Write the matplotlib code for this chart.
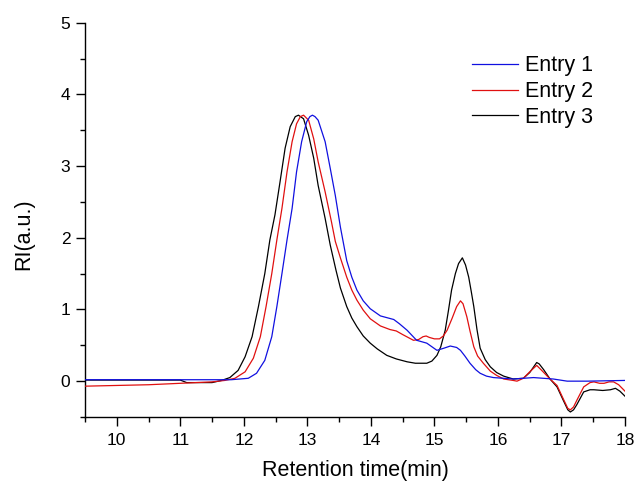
import matplotlib
matplotlib.use("Agg")
import matplotlib.pyplot as plt
from matplotlib.ticker import MultipleLocator

plt.rcParams['font.family'] = ['Liberation Sans', 'DejaVu Sans']

# Entry 1 (blue)
t1 = [9.5, 10.5, 11.5, 11.8, 12.07, 12.20, 12.33, 12.44, 12.52, 12.60, 12.68, 12.76,
      12.83, 12.91, 12.99, 13.04, 13.08, 13.12, 13.17, 13.28, 13.36, 13.44, 13.52,
      13.62, 13.70, 13.78, 13.88, 13.99, 14.15, 14.36, 14.45, 14.57, 14.72, 14.88,
      15.04, 15.15, 15.25, 15.35, 15.41, 15.48, 15.56, 15.65, 15.72, 15.82, 15.93,
      16.24, 16.56, 16.87, 17.09, 17.40, 18.0]
ri1 = [0.02, 0.02, 0.02, 0.02, 0.04, 0.11, 0.29, 0.62, 1.04, 1.50, 1.97, 2.41,
       2.92, 3.34, 3.62, 3.69, 3.71, 3.69, 3.64, 3.34, 2.97, 2.59, 2.15,
       1.68, 1.45, 1.27, 1.12, 1.01, 0.91, 0.86, 0.80, 0.71, 0.57, 0.53,
       0.43, 0.46, 0.49, 0.47, 0.43, 0.35, 0.25, 0.16, 0.11, 0.07, 0.05,
       0.03, 0.05, 0.03, 0.0, 0.0, 0.01]

# Entry 2 (red)
t2 = [9.5, 10.0, 10.5, 11.0, 11.5, 11.7, 11.86, 12.02, 12.15, 12.26, 12.35, 12.44,
      12.52, 12.60, 12.68, 12.76, 12.83, 12.89, 12.94, 13.02, 13.10, 13.17, 13.28,
      13.38, 13.44, 13.52, 13.62, 13.70, 13.78, 13.88, 13.99, 14.15, 14.30, 14.40,
      14.50, 14.67, 14.75, 14.82, 14.87, 14.92, 15.00, 15.08, 15.14, 15.20, 15.28,
      15.35, 15.41, 15.45, 15.51, 15.56, 15.62, 15.68, 15.77, 15.88, 15.98, 16.09,
      16.24, 16.30, 16.40, 16.50, 16.61, 16.70, 16.82, 16.93, 17.03, 17.10, 17.14,
      17.19, 17.24, 17.35, 17.45, 17.51, 17.60, 17.67, 17.75, 17.82, 17.90, 18.0]
ri2 = [-0.07, -0.06, -0.05, -0.03, -0.01, 0.01, 0.04, 0.13, 0.32, 0.62, 1.04, 1.50,
       1.97, 2.41, 2.92, 3.34, 3.59, 3.69, 3.71, 3.64, 3.38, 3.06, 2.64,
       2.22, 1.95, 1.72, 1.45, 1.27, 1.13, 0.99, 0.87, 0.77, 0.72, 0.70,
       0.65, 0.57, 0.58, 0.62, 0.63, 0.61, 0.59, 0.59, 0.63, 0.71, 0.88,
       1.04, 1.12, 1.08, 0.90, 0.70, 0.48, 0.35, 0.25, 0.14, 0.08, 0.03,
       0.01, 0.0, 0.04, 0.13, 0.22, 0.14, 0.03, -0.06, -0.25, -0.38, -0.40,
       -0.36, -0.27, -0.08, -0.02, -0.01, -0.03, -0.03, -0.01, -0.01, -0.05, -0.14]

# Entry 3 (black)
t3 = [9.5, 11.0, 11.1, 11.5, 11.65, 11.78, 11.91, 12.02, 12.13, 12.23, 12.33, 12.41,
      12.49, 12.57, 12.65, 12.73, 12.81, 12.86, 12.94, 13.02, 13.10, 13.17, 13.28,
      13.36, 13.45, 13.52, 13.62, 13.70, 13.78, 13.88, 13.99, 14.10, 14.25, 14.40,
      14.57, 14.70, 14.88, 14.96, 15.04, 15.10, 15.17, 15.22, 15.27, 15.33, 15.38,
      15.44, 15.49, 15.54, 15.58, 15.62, 15.67, 15.72, 15.80, 15.88, 15.98, 16.09,
      16.24, 16.40, 16.50, 16.61, 16.65, 16.72, 16.82, 16.93, 17.03, 17.10, 17.14,
      17.19, 17.24, 17.35, 17.45, 17.51, 17.65, 17.77, 17.85, 17.92, 18.0]
ri3 = [0.015, 0.015, -0.02, -0.02, 0.01, 0.05, 0.15, 0.34, 0.62, 1.04, 1.50, 1.97,
       2.32, 2.78, 3.25, 3.55, 3.69, 3.71, 3.66, 3.43, 3.11, 2.73, 2.27,
       1.90, 1.55, 1.30, 1.04, 0.88, 0.76, 0.63, 0.53, 0.45, 0.36, 0.31,
       0.27, 0.25, 0.25, 0.28, 0.36, 0.48, 0.71, 0.98, 1.27, 1.50, 1.64,
       1.72, 1.62, 1.45, 1.25, 1.04, 0.72, 0.46, 0.30, 0.20, 0.12, 0.07,
       0.03, 0.04, 0.12, 0.26, 0.24, 0.16, 0.03, -0.08, -0.27, -0.40, -0.43,
       -0.40, -0.33, -0.15, -0.12, -0.12, -0.13, -0.12, -0.10, -0.14, -0.21]

labels = ["Entry 1", "Entry 2", "Entry 3"]
colors = ["#1010e0", "#e01010", "#000000"]

fig = plt.figure(figsize=(6.36, 4.84), dpi=100)
ax = fig.add_axes([85/636, 1 - 417/484, 540/636, (417 - 22.7)/484])

ax.plot(t3, ri3, color=colors[2], lw=0.9, label=labels[2], zorder=2)
ax.plot(t2, ri2, color=colors[1], lw=0.9, label=labels[1], zorder=3)
ax.plot(t1, ri1, color=colors[0], lw=0.9, label=labels[0], zorder=4)

ax.set_xlim(9.5, 18)
ax.set_ylim(-0.5, 5)
ax.xaxis.set_major_locator(MultipleLocator(1))
ax.xaxis.set_minor_locator(MultipleLocator(0.5))
ax.yaxis.set_major_locator(MultipleLocator(1))
ax.yaxis.set_minor_locator(MultipleLocator(0.5))
ax.spines['top'].set_visible(False)
ax.spines['right'].set_visible(False)
for s in ('left', 'bottom'):
    ax.spines[s].set_linewidth(1.0)
ax.tick_params(which='major', direction='out', length=6.5, width=1.0, labelsize=12.5, pad=4)
ax.tick_params(which='minor', direction='out', length=3.5, width=1.0)
ax.tick_params(axis='x', which='major', pad=5)

ax.set_xlabel("Retention time(min)", fontsize=15.5)
ax.set_ylabel("RI(a.u.)", fontsize=15.5)
ax.xaxis.set_label_coords(0.5, -0.108)
ax.yaxis.set_label_coords(-0.094, 0.464)

h, l = ax.get_legend_handles_labels()
order = [2, 1, 0]
ax.legend([h[i] for i in order], [l[i] for i in order], loc='upper left',
          bbox_to_anchor=(0.716, 0.917), frameon=False, fontsize=15.5,
          handlelength=2.15, handletextpad=0.35, labelspacing=0.22,
          borderpad=0, borderaxespad=0)

fig.savefig("out.png", dpi=100)
